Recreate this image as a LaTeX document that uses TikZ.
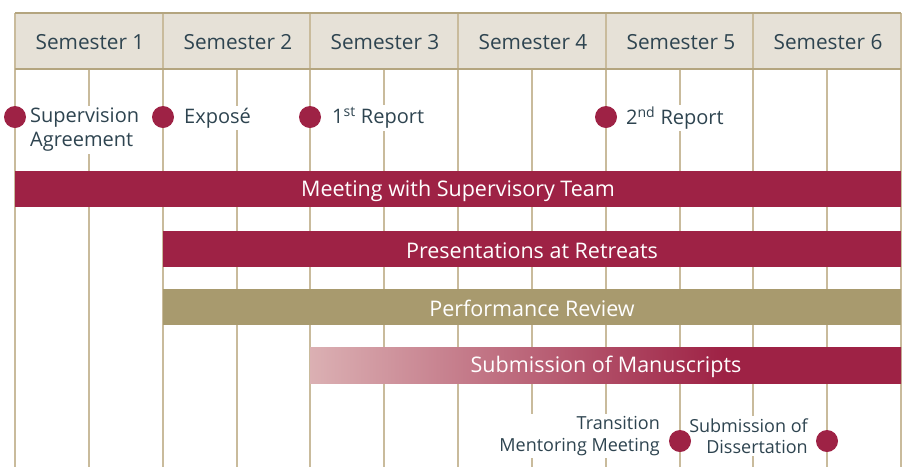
\documentclass[tikz,border=0pt]{standalone}
\usepackage{fontspec}
\setmainfont{Open Sans}
\definecolor{crim}{HTML}{9E2245}
\definecolor{pinkl}{HTML}{DBB0B3}
\definecolor{tanb}{HTML}{A89A6E}
\definecolor{gridc}{HTML}{C9BB9C}
\definecolor{headf}{HTML}{E6E1D7}
\definecolor{headl}{HTML}{B4A57F}
\definecolor{txt}{HTML}{2E4450}
\pgfdeclarehorizontalshading{manu}{100bp}{color(0bp)=(pinkl); color(25bp)=(pinkl); color(60bp)=(crim); color(100bp)=(crim)}
\tikzset{
  gl/.style={draw=gridc, line width=1.5pt},
  bar/.style={minimum height=36pt, inner sep=0pt, text=white, font=\fontsize{21.5}{24}\selectfont},
  hdr/.style={text=txt, font=\fontsize{20.8}{24}\selectfont},
  lbl/.style={text=txt, fill=white, inner sep=2pt, font=\fontsize{20}{24}\selectfont, align=left},
  lblr/.style={text=txt, fill=white, inner sep=2pt, font=\fontsize{18}{21.5}\selectfont, align=right},
  dot/.style={circle, fill=crim, minimum size=22pt, inner sep=0pt},
}
\begin{document}
\begin{tikzpicture}[x=1pt, y=-1pt]
\useasboundingbox (0,0) rectangle (906,467);
% header
\fill[headf] (15,13) rectangle (901,69);
% grid lines
\foreach \x in {15,163,310,458,606,753,901} \draw[gl] (\x,13) -- (\x,467);
\foreach \x in {89,237,384,532,680,827} \draw[gl] (\x,69) -- (\x,467);
\draw[draw=headl, line width=2pt] (15,13) -- (901,13);
\draw[draw=headl, line width=1.5pt] (15,69) -- (901,69);
% header labels
\foreach \i/\x in {1/89,2/237,3/384,4/532,5/680,6/827}
  \node[hdr] (s\i) at (\x+1,42) {Semester \i};
% top labels
\node[lbl, anchor=west] (la) at (28,130) {Supervision\\Agreement};
\node[lbl, anchor=west] (lb) at (182,118) {Exposé};
\node[lbl, anchor=west] (lc) at (330,118) {1\textsuperscript{st} Report};
\node[lbl, anchor=west] (ld) at (624,118) {2\textsuperscript{nd} Report};
\node[dot] (da) at (15,117) {};
\node[dot] (db) at (163,117) {};
\node[dot] (dc) at (310,117) {};
\node[dot] (dd) at (606,117) {};
% bars
\fill[crim] (15,171) rectangle (901,207);
\node[bar] (b1) at (458,190.5) {Meeting with Supervisory Team};
\fill[crim] (163,231) rectangle (901,267);
\node[bar] (b2) at (532,250.5) {Presentations at Retreats};
\fill[tanb] (163,289) rectangle (901,325);
\node[bar] (b3) at (532,308.5) {Performance Review};
\shade[shading=manu] (310,347) rectangle (901,383);
\node[bar] (b4) at (606,366.5) {Submission of Manuscripts};
% bottom labels
\node[lblr, anchor=east] (le) at (662,436) {Transition\\Mentoring Meeting};
\node[lblr, anchor=east] (lf) at (810,436) {Submission of\\Dissertation};
\node[dot] (de) at (680,441) {};
\node[dot] (df) at (827,441) {};
\end{tikzpicture}
\end{document}
